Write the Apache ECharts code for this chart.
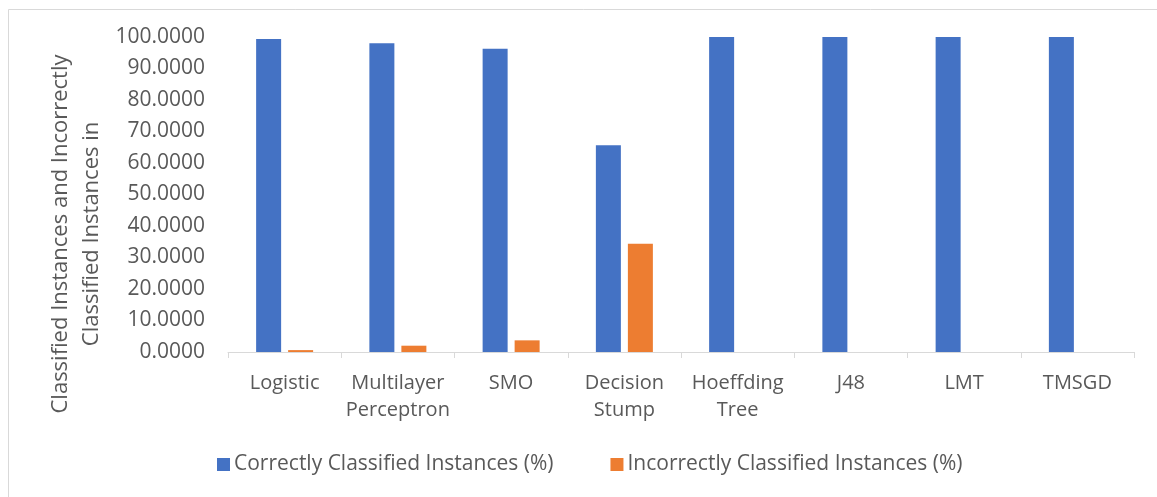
<!DOCTYPE html>
<html>
<head>
<meta charset="utf-8">
<script src="https://cdn.jsdelivr.net/npm/echarts@6/dist/echarts.min.js"></script>
<style>
  html, body { margin: 0; padding: 0; background: #ffffff; }
  #chart { width: 1157px; height: 497px; }
</style>
</head>
<body>
<div id="chart"></div>
<script>
// Classifier names (two-line labels where the name wraps)
const categories = [
  'Logistic', 'Multilayer\nPerceptron', 'SMO', 'Decision\nStump',
  'Hoeffding\nTree', 'J48', 'LMT', 'TMSGD'
];
const correctlyClassified = [99.4, 98.0, 96.3, 65.6, 100, 100, 100, 100];
const incorrectlyClassified = [0.6, 2.0, 3.7, 34.4, 0, 0, 0, 0];
const seriesNames = ['Correctly Classified Instances (%)', 'Incorrectly Classified Instances (%)'];
const yAxisTitle = 'Classified Instances and Incorrectly\nClassified Instances in';

const FONT = '"Open Sans", "Noto Sans", sans-serif';
const TEXT = '#595959';

const chart = echarts.init(document.getElementById('chart'), null, { renderer: 'canvas' });

chart.setOption({
  animation: false,
  backgroundColor: '#ffffff',
  textStyle: { fontFamily: FONT },
  color: ['#4472c4', '#ed7d31'],
  grid: { left: 228, right: 23, top: 37, bottom: 145, containLabel: false },
  legend: {
    data: seriesNames,
    bottom: 17,
    left: 212,
    itemWidth: 13,
    itemHeight: 13,
    itemGap: 57,
    icon: 'rect',
    textStyle: { fontSize: 21, color: TEXT, fontFamily: FONT, padding: [0, 0, 0, -1] }
  },
  xAxis: {
    type: 'category',
    data: categories,
    axisLine: { show: true, lineStyle: { color: '#d9d9d9', width: 1 } },
    axisTick: { show: true, alignWithLabel: false, length: 6, lineStyle: { color: '#d9d9d9' } },
    axisLabel: {
      interval: 0,
      margin: 18,
      fontSize: 20,
      lineHeight: 27,
      color: TEXT,
      fontFamily: FONT
    }
  },
  yAxis: {
    type: 'value',
    min: 0,
    max: 100,
    interval: 10,
    axisLine: { show: false },
    axisTick: { show: false },
    splitLine: { show: false },
    axisLabel: {
      margin: 23,
      fontSize: 21,
      color: TEXT,
      fontFamily: FONT,
      formatter: v => v.toFixed(4)
    }
  },
  graphic: [
    {
      type: 'rect',
      shape: { x: 8.5, y: 9.5, width: 1160, height: 520 },
      style: { fill: 'none', stroke: '#d9d9d9', lineWidth: 1 },
      silent: true
    },
    {
      type: 'text',
      x: 76,
      y: 234,
      rotation: Math.PI / 2,
      style: {
        text: yAxisTitle,
        fontSize: 22,
        lineHeight: 31,
        fontFamily: FONT,
        fill: TEXT,
        align: 'center',
        verticalAlign: 'middle'
      },
      silent: true
    }
  ],
  series: [
    {
      name: seriesNames[0],
      type: 'bar',
      data: correctlyClassified,
      barWidth: 25,
      barGap: '28%'
    },
    {
      name: seriesNames[1],
      type: 'bar',
      data: incorrectlyClassified,
      barWidth: 25,
      barGap: '28%'
    }
  ]
});
</script>
</body>
</html>
